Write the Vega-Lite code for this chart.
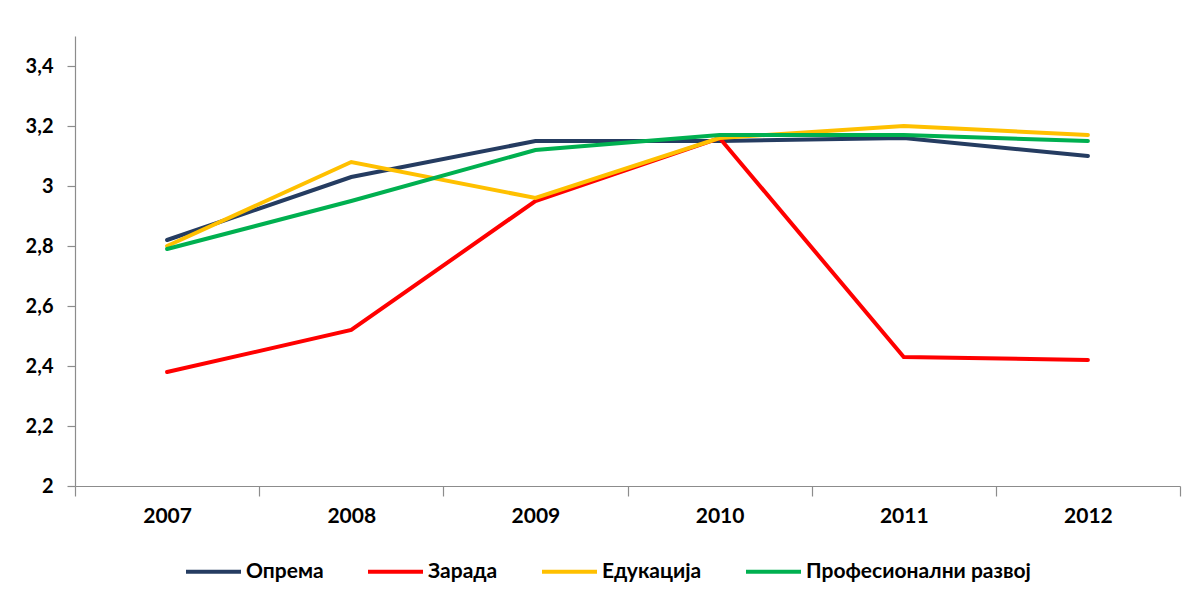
{
  "$schema": "https://vega.github.io/schema/vega-lite/v6.json",
  "width": 1105,
  "height": 450,
  "autosize": {"type": "none"},
  "padding": {"left": 75, "top": 36, "right": 18, "bottom": 118},
  "background": "#ffffff",
  "config": {
    "view": {"stroke": null},
    "font": "Lato",
    "axis": {"grid": false, "domainColor": "#8c8c8c", "tickColor": "#8c8c8c", "domainWidth": 1.2, "tickWidth": 1.2, "labelFont": "Lato", "labelFontWeight": "bold", "labelColor": "#000000", "labelFontSize": 21, "title": null}
  },
  "data": {
    "values": [
      {"year": "2007", "series": "Опрема", "value": 2.82},
      {"year": "2008", "series": "Опрема", "value": 3.03},
      {"year": "2009", "series": "Опрема", "value": 3.15},
      {"year": "2010", "series": "Опрема", "value": 3.15},
      {"year": "2011", "series": "Опрема", "value": 3.16},
      {"year": "2012", "series": "Опрема", "value": 3.10},
      {"year": "2007", "series": "Зарада", "value": 2.38},
      {"year": "2008", "series": "Зарада", "value": 2.52},
      {"year": "2009", "series": "Зарада", "value": 2.95},
      {"year": "2010", "series": "Зарада", "value": 3.16},
      {"year": "2011", "series": "Зарада", "value": 2.43},
      {"year": "2012", "series": "Зарада", "value": 2.42},
      {"year": "2007", "series": "Едукација", "value": 2.80},
      {"year": "2008", "series": "Едукација", "value": 3.08},
      {"year": "2009", "series": "Едукација", "value": 2.96},
      {"year": "2010", "series": "Едукација", "value": 3.16},
      {"year": "2011", "series": "Едукација", "value": 3.20},
      {"year": "2012", "series": "Едукација", "value": 3.17},
      {"year": "2007", "series": "Професионални развој", "value": 2.79},
      {"year": "2008", "series": "Професионални развој", "value": 2.95},
      {"year": "2009", "series": "Професионални развој", "value": 3.12},
      {"year": "2010", "series": "Професионални развој", "value": 3.17},
      {"year": "2011", "series": "Професионални развој", "value": 3.17},
      {"year": "2012", "series": "Професионални развој", "value": 3.15}
    ]
  },
  "mark": {"type": "line", "strokeWidth": 4, "strokeCap": "round", "strokeJoin": "miter"},
  "encoding": {
    "x": {
      "field": "year",
      "type": "ordinal",
      "scale": {"type": "band", "paddingInner": 0, "paddingOuter": 0},
      "axis": {"labelAngle": 0, "tickBand": "extent", "tickSize": 10, "labelPadding": 9}
    },
    "y": {
      "field": "value",
      "type": "quantitative",
      "scale": {"domain": [2, 3.5], "nice": false, "zero": false},
      "axis": {"values": [2, 2.2, 2.4, 2.6, 2.8, 3, 3.2, 3.4], "tickSize": 8, "labelPadding": 14, "labelFontSize": 20, "labelExpr": "replace(toString(datum.value), '.', ',')"}
    },
    "color": {
      "field": "series",
      "type": "nominal",
      "scale": {"domain": ["Опрема", "Зарада", "Едукација", "Професионални развој"], "range": ["#253C61", "#FF0000", "#FFC000", "#00B050"]},
      "legend": {
        "title": null,
        "orient": "none",
        "direction": "horizontal",
        "legendX": 109,
        "legendY": 506,
        "symbolType": "stroke",
        "symbolSize": 3025,
        "symbolStrokeWidth": 4,
        "labelFont": "Lato",
        "labelFontWeight": "bold",
        "labelFontSize": 21,
        "labelColor": "#000000",
        "labelLimit": 0,
        "labelOffset": 3,
        "columnPadding": 36
      }
    }
  }
}
